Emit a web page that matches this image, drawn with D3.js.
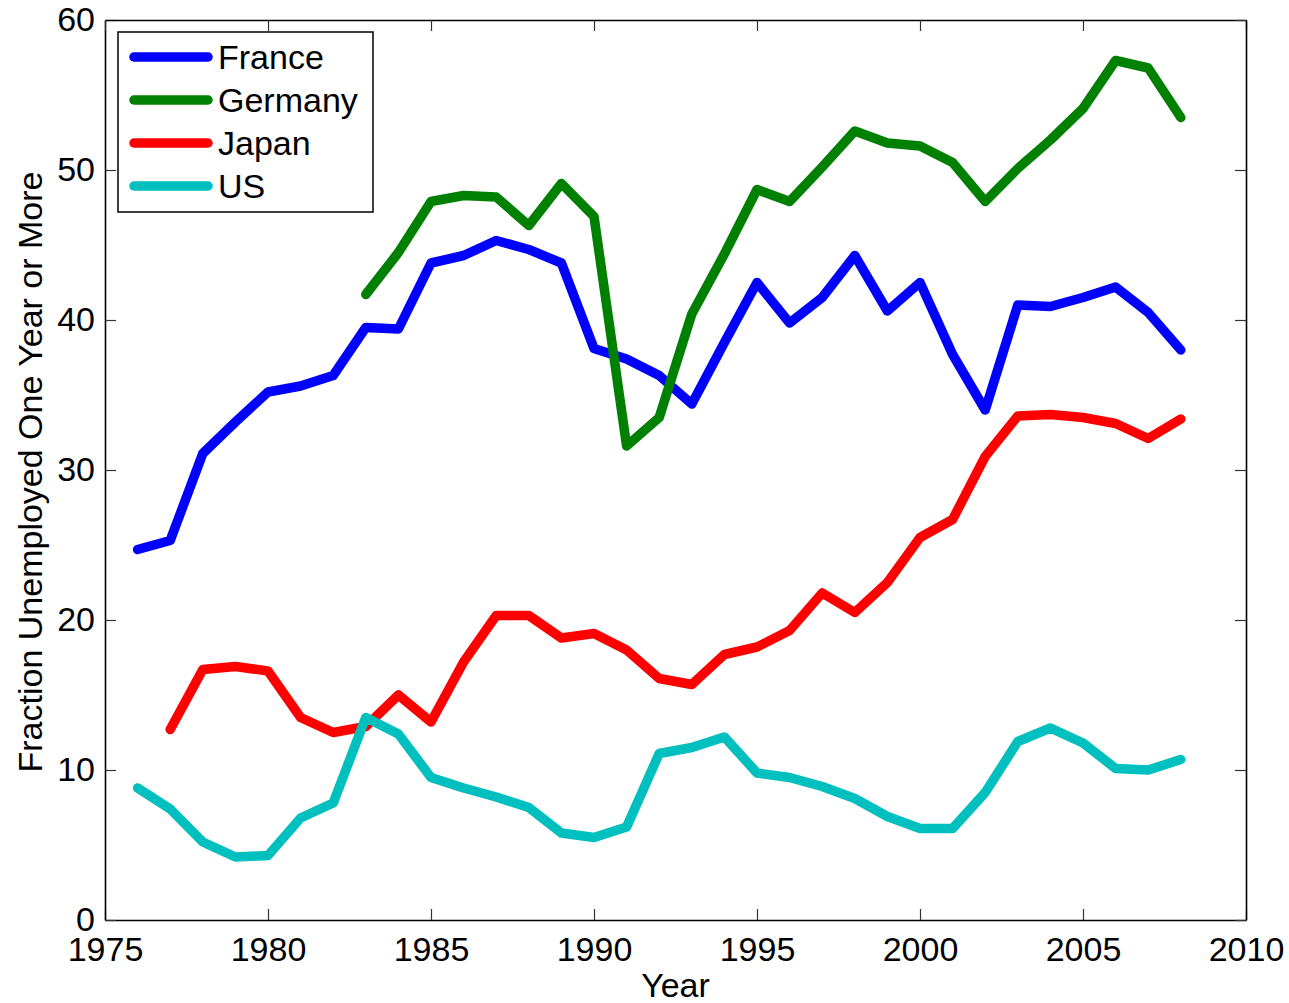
<!DOCTYPE html>
<html>
<head>
<meta charset="utf-8">
<script src="https://cdn.jsdelivr.net/npm/d3@7"></script>
<style>
  body { margin: 0; background: #fff; }
  text { font-family: "Liberation Sans", Arial, Helvetica, sans-serif; }
</style>
</head>
<body>
<div id="chart"></div>
<script>
// data (percent unemployed one year or more)
var france = [24.7, 25.3, 31.1, 33.2, 35.2, 35.6, 36.3, 39.5, 39.4, 43.8, 44.3, 45.3, 44.7, 43.8,
              38.1, 37.4, 36.3, 34.4, 38.5, 42.5, 39.8, 41.5, 44.3, 40.6, 42.5, 37.7, 34.0, 41.0,
              40.9, 41.5, 42.2, 40.5, 38.0];
var franceStart = 1976;

var germany = [41.7, 44.5, 47.9, 48.3, 48.2, 46.3, 49.1, 46.9, 31.6, 33.5, 40.4, 44.4, 48.7, 47.9,
               50.2, 52.6, 51.8, 51.6, 50.5, 47.9, 50.1, 52.0, 54.1, 57.3, 56.8, 53.5];
var germanyStart = 1983;

var japan = [12.7, 16.7, 16.9, 16.6, 13.5, 12.5, 12.9, 15.0, 13.2, 17.2, 20.3, 20.3, 18.8, 19.1,
             18.0, 16.1, 15.7, 17.7, 18.2, 19.3, 21.8, 20.5, 22.5, 25.5, 26.7, 30.9, 33.6, 33.7,
             33.5, 33.1, 32.1, 33.4];
var japanStart = 1977;

var us = [8.8, 7.4, 5.2, 4.2, 4.3, 6.8, 7.8, 13.5, 12.4, 9.5, 8.8, 8.2, 7.5, 5.8, 5.5, 6.2, 11.1,
          11.5, 12.2, 9.8, 9.5, 8.9, 8.1, 6.9, 6.1, 6.1, 8.5, 11.9, 12.8, 11.8, 10.1, 10.0, 10.7];
var usStart = 1976;

var seriesNames = ["France", "Germany", "Japan", "US"];
var seriesColors = ["#0000ff", "#008000", "#ff0000", "#00bfbf"];
var xTicks = [1975, 1980, 1985, 1990, 1995, 2000, 2005, 2010];
var yTicks = [0, 10, 20, 30, 40, 50, 60];

function toPoints(values, start) {
    return values.map(function(v, i) { return { year: start + i, value: v }; });
}

var series = [
    toPoints(france, franceStart),
    toPoints(germany, germanyStart),
    toPoints(japan, japanStart),
    toPoints(us, usStart)
];

var w = 1289, h = 1003;
var margin = { top: 20, right: 43, bottom: 83, left: 105 };
var iw = w - margin.left - margin.right;
var ih = h - margin.top - margin.bottom;
var fontSize = 34;
var tick = 11;

var svg = d3.select("#chart")
    .append("svg")
    .attr("width", w)
    .attr("height", h);

var g = svg.append("g")
    .attr("transform", "translate(" + margin.left + "," + margin.top + ")");

var xScale = d3.scaleLinear().domain([1975, 2010]).range([0, iw]);
var yScale = d3.scaleLinear().domain([0, 60]).range([ih, 0]);

// lines
var line = d3.line()
    .x(function(d) { return xScale(d.year); })
    .y(function(d) { return yScale(d.value); });

g.append("g")
    .selectAll("path")
    .data(series)
    .enter()
    .append("path")
        .attr("d", line)
        .attr("fill", "none")
        .attr("stroke", function(d, i) { return seriesColors[i]; })
        .attr("stroke-width", 9.5)
        .attr("stroke-linejoin", "round")
        .attr("stroke-linecap", "round");

// axes (MATLAB style box with inward ticks)
var xAxis = d3.axisBottom(xScale).tickValues(xTicks).tickFormat(d3.format("d"))
    .tickSizeInner(-tick).tickSizeOuter(0).tickPadding(17);
var yAxis = d3.axisLeft(yScale).tickValues(yTicks)
    .tickSizeInner(-tick).tickSizeOuter(0).tickPadding(10);
var xTop = d3.axisTop(xScale).tickValues(xTicks).tickFormat("")
    .tickSizeInner(-tick).tickSizeOuter(0);
var yRight = d3.axisRight(yScale).tickValues(yTicks).tickFormat("")
    .tickSizeInner(-tick).tickSizeOuter(0);

var axes = [
    g.append("g").attr("transform", "translate(0," + ih + ")").call(xAxis),
    g.append("g").call(yAxis),
    g.append("g").call(xTop),
    g.append("g").attr("transform", "translate(" + iw + ",0)").call(yRight)
];

axes.forEach(function(a) {
    a.select(".domain").attr("stroke", "#000").attr("stroke-width", 1.6);
    a.selectAll(".tick line").attr("stroke", "#333").attr("stroke-width", 1.2);
    a.selectAll(".tick text")
        .attr("font-size", fontSize)
        .attr("fill", "#000")
        .style("font-family", "'Liberation Sans', Arial, sans-serif");
});

// axis titles
svg.append("text")
    .attr("x", margin.left + iw / 2)
    .attr("y", 997)
    .attr("text-anchor", "middle")
    .attr("font-size", fontSize)
    .text("Year");

svg.append("text")
    .attr("transform", "translate(42," + (margin.top + ih / 2 + 2) + ") rotate(-90)")
    .attr("text-anchor", "middle")
    .attr("font-size", fontSize)
    .text("Fraction Unemployed One Year or More");

// legend
var legend = g.append("g")
    .attr("transform", "translate(13,12)");

legend.append("rect")
    .attr("width", 255)
    .attr("height", 180)
    .attr("fill", "#fff")
    .attr("stroke", "#000")
    .attr("stroke-width", 1.5);

var items = legend.selectAll(".item")
    .data(seriesNames)
    .enter()
    .append("g")
    .attr("class", "item")
    .attr("transform", function(d, i) { return "translate(0," + (25 + i * 43) + ")"; });

items.append("line")
    .attr("x1", 16)
    .attr("x2", 90)
    .attr("stroke", function(d, i) { return seriesColors[i]; })
    .attr("stroke-width", 9.5)
    .attr("stroke-linecap", "round");

items.append("text")
    .attr("x", 100)
    .attr("dy", "0.35em")
    .attr("font-size", fontSize)
    .text(function(d) { return d; });
</script>
</body>
</html>
